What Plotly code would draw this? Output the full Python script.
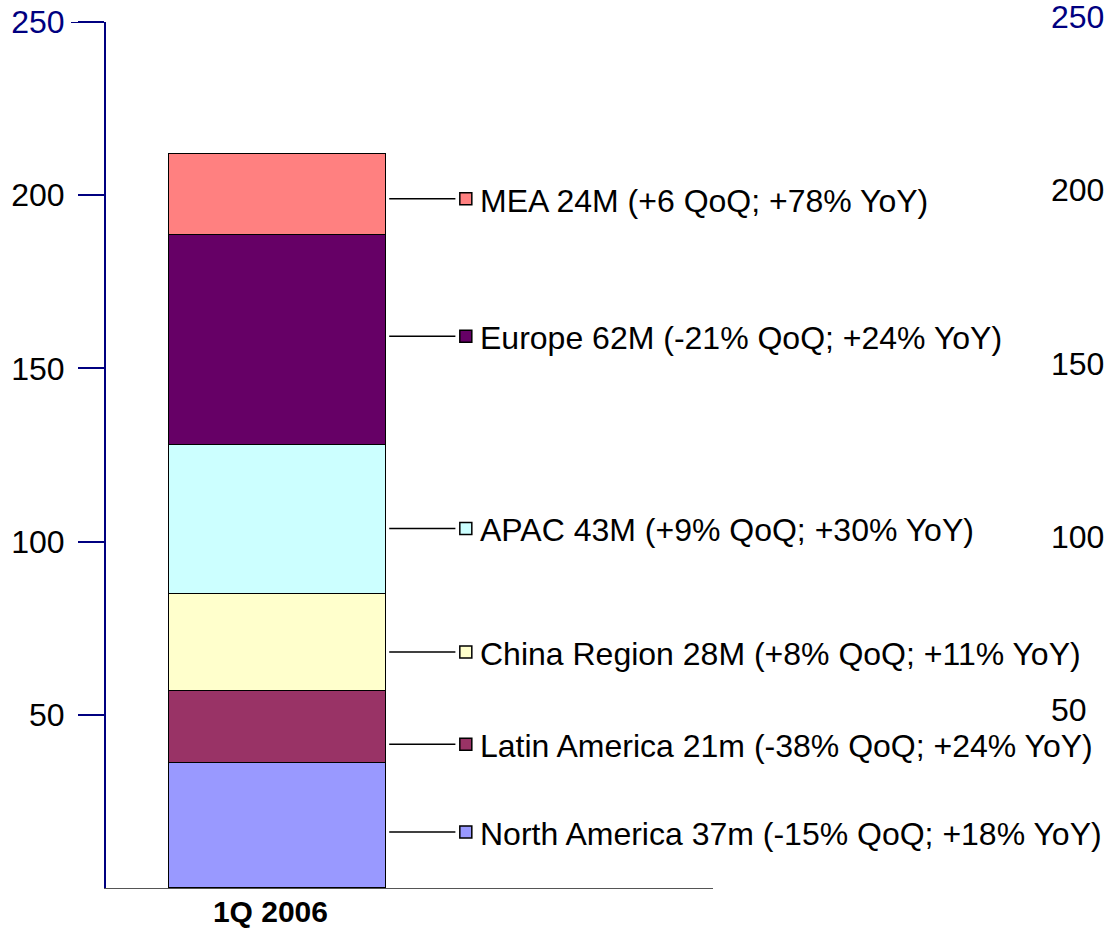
import plotly.graph_objects as go

# ---- data ----
category = "1Q 2006"
regions = ["North America", "Latin America", "China Region", "APAC", "Europe", "MEA"]
values = [36, 21, 28, 43, 60.5, 23.5]
colors = ["#9999FF", "#993366", "#FFFFCC", "#CCFFFF", "#660066", "#FF8080"]
labels = [
    "North America 37m (-15% QoQ; +18% YoY)",
    "Latin America 21m (-38% QoQ; +24% YoY)",
    "China Region 28M (+8% QoQ; +11% YoY)",
    "APAC 43M (+9% QoQ; +30% YoY)",
    "Europe 62M (-21% QoQ; +24% YoY)",
    "MEA 24M (+6 QoQ; +78% YoY)",
]
tick_vals = [50, 100, 150, 200, 250]

# style: small vertical nudges of the labels relative to segment middles
label_nudge = [-1.8, -5, -2.9, -2.7, 1.0, -1.3]

NAVY = "#000080"
FONT = "Liberation Sans, Arial, sans-serif"
FS = 32

W, H = 1107, 930
ML, MR, MT, MB = 106, 57, 22, 42
plot_w = W - ML - MR
x_dom_end = (713 - ML) / plot_w

fig = go.Figure()

for r, v, c in zip(regions, values, colors):
    fig.add_trace(go.Bar(
        x=[0], y=[v], width=1, name=r,
        marker=dict(color=c, line=dict(color="black", width=1.5)),
        hoverinfo="skip",
    ))

cum = 0
label_y = []
for v, n in zip(values, label_nudge):
    label_y.append(cum + v / 2 + n)
    cum += v

line_x0, line_x1 = 0.515, 0.82
sq_x = 0.868
txt_x = 0.922

for ly, c, t in zip(label_y, colors, labels):
    fig.add_trace(go.Scatter(
        x=[line_x0, line_x1], y=[ly, ly], mode="lines",
        line=dict(color="black", width=1.5), hoverinfo="skip", cliponaxis=False,
    ))
    fig.add_trace(go.Scatter(
        x=[sq_x], y=[ly], mode="markers",
        marker=dict(symbol="square", size=12, color=c, line=dict(color="black", width=1.5)),
        hoverinfo="skip", cliponaxis=False,
    ))
    fig.add_annotation(
        x=txt_x, y=ly, xref="x", yref="y", text=t, showarrow=False,
        xanchor="left", yanchor="middle", yshift=-2,
        font=dict(family=FONT, size=FS, color="black"),
    )

tick_text = [str(v) for v in tick_vals]
tick_text[-1] = f'<span style="color:{NAVY}">{tick_vals[-1]}</span>'

# longer tick at top value
fig.add_shape(type="line", xref="paper", yref="y",
              x0=(71 - ML) / plot_w, x1=(80 - ML) / plot_w, y0=250, y1=250,
              line=dict(color=NAVY, width=2))

fig.update_layout(
    width=W, height=H,
    margin=dict(l=ML, r=MR, t=MT, b=MB, pad=0, autoexpand=False),
    barmode="stack",
    bargap=0,
    showlegend=False,
    plot_bgcolor="white", paper_bgcolor="white",
    font=dict(family=FONT, size=FS, color="black"),
    xaxis=dict(
        domain=[0, x_dom_end],
        range=[-0.79, 2.007],
        tickvals=[0], ticktext=[f"<b>{category}</b>"],
        ticks="", showline=True, linecolor="#555555", linewidth=1,
        showgrid=False, zeroline=False, ticklabelshift=-7,
        ticklabelstandoff=-3, automargin=False,
        tickfont=dict(family=FONT, size=30, color="black"),
    ),
    yaxis=dict(
        range=[0, 250],
        tickvals=tick_vals, ticktext=tick_text,
        ticks="outside", ticklen=26, tickwidth=2, tickcolor=NAVY,
        showline=True, linecolor=NAVY, linewidth=2,
        showgrid=False, zeroline=False, automargin=False,
        ticklabelstandoff=7,
        tickfont=dict(family=FONT, size=FS, color="black"),
    ),
    yaxis2=dict(
        range=[0, 250], overlaying="y", side="right", anchor="free", position=1,
        tickvals=tick_vals, ticktext=tick_text,
        ticks="", showline=False, showgrid=False, zeroline=False,
        ticklabelshift=-5, ticklabeloverflow="allow", automargin=False,
        tickfont=dict(family=FONT, size=FS, color="black"),
    ),
)

fig.add_trace(go.Scatter(x=[None], y=[None], yaxis="y2", hoverinfo="skip"))

fig.write_html("out.html")
